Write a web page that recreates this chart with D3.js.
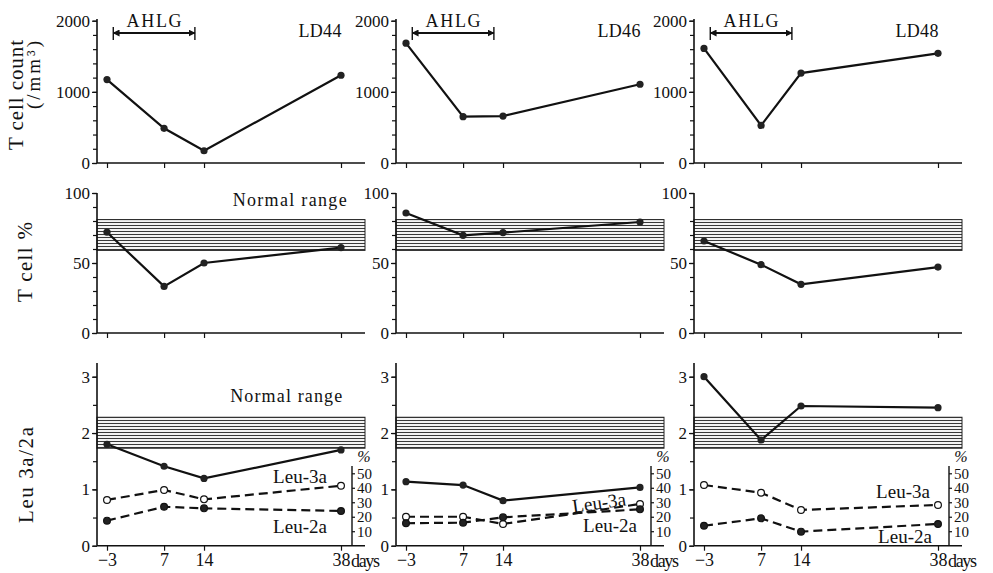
<!DOCTYPE html>
<html>
<head>
<meta charset="utf-8">
<script src="https://cdn.jsdelivr.net/npm/d3@7"></script>
<style>
body { margin: 0; background: #fff; }
text { font-family: "Liberation Serif", "DejaVu Serif", serif; fill: #111; }
</style>
</head>
<body>
<div id="chart"></div>
<script>

// data
const days = [-3, 7, 14, 38];
const patients = ["LD44", "LD46", "LD48"];
const tCellCount = [[1172, 488, 172, 1233], [1684, 651, 660, 1107], [1610, 528, 1264, 1542]];
const tCellPct = [[72, 33.3, 50, 61], [85.7, 69.8, 71.7, 79.3], [65.7, 48.8, 34.8, 47.1]];
const leuRatio = [[1.80, 1.41, 1.195, 1.70], [1.136, 1.077, 0.80, 1.035], [3.0, 1.876, 2.48, 2.45]];
const leu3a = [[31.6, 38.5, 32, 41.4], [20, 20, 15, 28.8], [41.9, 36.6, 24.7, 28.1]];
const leu2a = [[17.3, 26.9, 25.8, 24], [15.5, 15.9, 19.6, 25.1], [13.8, 18.9, 9.7, 15]];
const ahlg = [-1.9, 12.4];
const normalPct = [59, 81];
const normalRatio = [1.73, 2.28];
const countTicks = [0, 1000, 2000];
const pctTicks = [0, 50, 100];
const ratioTicks = [0, 1, 2, 3];
const leuTicks = [10, 20, 30, 40, 50];

const width = 993, height = 573;
const svg = d3.select("#chart").append("svg")
    .attr("width", width)
    .attr("height", height);

// hatched "normal range" band + arrowheads
const defs = svg.append("defs");
const hatch = defs.append("pattern")
    .attr("id", "hatch")
    .attr("patternUnits", "userSpaceOnUse")
    .attr("width", 8).attr("height", 3);
hatch.append("rect").attr("width", 8).attr("height", 3).attr("fill", "#f4f4f4");
hatch.append("rect").attr("width", 8).attr("height", 1).attr("fill", "#3a3a3a");

defs.append("marker")
    .attr("id", "arrow")
    .attr("viewBox", "0 0 10 10")
    .attr("refX", 9).attr("refY", 5)
    .attr("markerWidth", 7).attr("markerHeight", 7)
    .attr("markerUnits", "userSpaceOnUse")
    .attr("orient", "auto-start-reverse")
  .append("path")
    .attr("d", "M0,0 L10,5 L0,10 z")
    .attr("fill", "#111");

// layout of the three rows
const panelLeft = [97, 396, 694];
const rows = [
  {values: tCellCount, base: 163, top: 20.7, axisTop: 19, ticks: countTicks, minor: 200},
  {values: tCellPct, base: 333, top: 193, axisTop: 193, ticks: pctTicks, minor: 10, band: normalPct},
  {values: leuRatio, base: 545.7, top: 376.7, axisTop: 363, ticks: ratioTicks, minor: 0.5, band: normalRatio}
];
const axisLen = 268;

const leuLabels = [
  {a3: [203, 483, 0], a2: [203, 533]},
  {a3: [204, 509, -8], a2: [214, 532]},
  {a3: [209, 498, 0], a2: [211, 543]}
];

function styleAxis(g, size) {
  g.attr("font-family", null).attr("font-size", size);
  g.select(".domain").remove();
  g.selectAll(".tick line").attr("stroke", "#111").attr("stroke-width", 1.2);
}

patients.forEach((p, i) => {
  const x0 = panelLeft[i];
  const x = d3.scaleLinear().domain([days[0], days[3]]).range([x0 + 10, x0 + 244]);
  const panel = svg.append("g").attr("class", "panel " + p);

  rows.forEach((r, ri) => {
    const ymax = r.ticks[r.ticks.length - 1];
    const y = d3.scaleLinear().domain([0, ymax]).range([r.base, r.top]);
    const g = panel.append("g");

    if (r.band) {
      g.append("rect")
        .attr("x", x0)
        .attr("y", y(r.band[1]))
        .attr("width", axisLen)
        .attr("height", y(r.band[0]) - y(r.band[1]))
        .attr("fill", "url(#hatch)")
        .attr("stroke", "#222")
        .attr("stroke-width", 1);
    }

    // y axis, major and minor ticks
    g.append("g")
      .attr("transform", `translate(${x0},0)`)
      .call(d3.axisLeft(y).tickValues(d3.range(0, ymax + r.minor / 2, r.minor)).tickSize(4).tickFormat(""))
      .call(a => styleAxis(a, 17));
    g.append("g")
      .attr("transform", `translate(${x0},0)`)
      .call(d3.axisLeft(y).tickValues(r.ticks).tickSize(5).tickPadding(2).tickFormat(d3.format("d")))
      .call(a => styleAxis(a, 17));
    g.append("line")
      .attr("x1", x0).attr("x2", x0)
      .attr("y1", r.base).attr("y2", r.axisTop)
      .attr("stroke", "#111").attr("stroke-width", 1.6);

    // x axis
    g.append("g")
      .attr("transform", `translate(0,${r.base})`)
      .call(d3.axisBottom(x).tickValues(days).tickSize(5).tickSizeOuter(0)
        .tickFormat(ri === 2 ? d3.format("d") : ""))
      .call(a => styleAxis(a, 18));
    g.append("line")
      .attr("x1", x0).attr("x2", x0 + axisLen)
      .attr("y1", r.base).attr("y2", r.base)
      .attr("stroke", "#111").attr("stroke-width", 1.6);

    if (ri === 2) {
      g.append("text")
        .attr("x", x(38) + 10)
        .attr("y", r.base + 21)
        .attr("font-size", 18)
        .attr("textLength", 29)
        .text("days");
    }

    // main series
    const pts = days.map((d, k) => [d, r.values[i][k]]);
    g.append("path")
      .datum(pts)
      .attr("fill", "none")
      .attr("stroke", "#111")
      .attr("stroke-width", 2.2)
      .attr("d", d3.line().x(d => x(d[0])).y(d => y(d[1])));
    g.selectAll("circle.main")
      .data(pts)
      .join("circle")
        .attr("class", "main")
        .attr("cx", d => x(d[0]))
        .attr("cy", d => y(d[1]))
        .attr("r", 3.6)
        .attr("fill", "#222");

    if (ri === 2) {
      // Leu-3a / Leu-2a percent on the right axis
      const yp = d3.scaleLinear().domain([0, 50]).range([r.base, 473.3]);
      const xr = x(38) + 11;
      g.append("g")
        .attr("transform", `translate(${xr},0)`)
        .call(d3.axisRight(yp).tickValues(leuTicks).tickSize(3).tickPadding(2).tickFormat(d3.format("d")))
        .call(a => styleAxis(a, 15));
      g.append("line")
        .attr("x1", xr).attr("x2", xr)
        .attr("y1", r.base).attr("y2", 466)
        .attr("stroke", "#111").attr("stroke-width", 1.4);
      g.append("text")
        .attr("x", xr + 12)
        .attr("y", 462)
        .attr("text-anchor", "middle")
        .attr("font-size", 16)
        .attr("font-style", "italic")
        .text("%");

      [[leu3a, "#fff"], [leu2a, "#222"]].forEach(([series, fill]) => {
        const sp = days.map((d, k) => [d, series[i][k]]);
        g.append("path")
          .datum(sp)
          .attr("fill", "none")
          .attr("stroke", "#111")
          .attr("stroke-width", 2.2)
          .attr("stroke-dasharray", "9,5")
          .attr("d", d3.line().x(d => x(d[0])).y(d => yp(d[1])));
        g.append("g").selectAll("circle")
          .data(sp)
          .join("circle")
            .attr("cx", d => x(d[0]))
            .attr("cy", d => yp(d[1]))
            .attr("r", 3.4)
            .attr("fill", fill)
            .attr("stroke", "#111")
            .attr("stroke-width", 1.2);
      });

      const lab = leuLabels[i];
      g.append("text")
        .attr("transform", `translate(${x0 + lab.a3[0]},${lab.a3[1]}) rotate(${lab.a3[2]})`)
        .attr("text-anchor", "middle")
        .attr("font-size", 19)
        .text("Leu-3a");
      g.append("text")
        .attr("x", x0 + lab.a2[0])
        .attr("y", lab.a2[1])
        .attr("text-anchor", "middle")
        .attr("font-size", 19)
        .text("Leu-2a");
    }
  });

  // AHLG treatment period
  panel.append("line")
    .attr("x1", x(ahlg[0])).attr("x2", x(ahlg[1]))
    .attr("y1", 33).attr("y2", 33)
    .attr("stroke", "#111").attr("stroke-width", 2)
    .attr("marker-start", "url(#arrow)")
    .attr("marker-end", "url(#arrow)");
  ahlg.forEach(d => {
    panel.append("line")
      .attr("x1", x(d)).attr("x2", x(d))
      .attr("y1", 27).attr("y2", 40)
      .attr("stroke", "#111").attr("stroke-width", 1.4);
  });
  panel.append("text")
    .attr("x", x((ahlg[0] + ahlg[1]) / 2))
    .attr("y", 27)
    .attr("text-anchor", "middle")
    .attr("font-size", 18)
    .attr("textLength", 55)
    .text("AHLG");

  panel.append("text")
    .attr("x", x(34.3))
    .attr("y", 37)
    .attr("text-anchor", "middle")
    .attr("font-size", 18)
    .attr("textLength", 43)
    .text(p);

  if (i === 0) {
    panel.append("text")
      .attr("x", x(29))
      .attr("y", 206)
      .attr("text-anchor", "middle")
      .attr("font-size", 18)
      .attr("textLength", 114)
      .text("Normal range");
    panel.append("text")
      .attr("x", x(28.4))
      .attr("y", 402)
      .attr("text-anchor", "middle")
      .attr("font-size", 18)
      .attr("textLength", 112)
      .text("Normal range");
  }
});

// y titles
const titles = [
  {t: "T cell count", x: 23, y: 95, len: 110, size: 21},
  {t: "(/mm³)", x: 40, y: 75, len: 68, size: 19},
  {t: "T cell %", x: 32, y: 262, len: 80, size: 21},
  {t: "Leu 3a/2a", x: 33, y: 475, len: 96, size: 21}
];
svg.append("g").selectAll("text")
  .data(titles)
  .join("text")
    .attr("transform", d => `translate(${d.x},${d.y}) rotate(-90)`)
    .attr("text-anchor", "middle")
    .attr("font-size", d => d.size)
    .attr("textLength", d => d.len)
    .text(d => d.t);

</script>
</body>
</html>
